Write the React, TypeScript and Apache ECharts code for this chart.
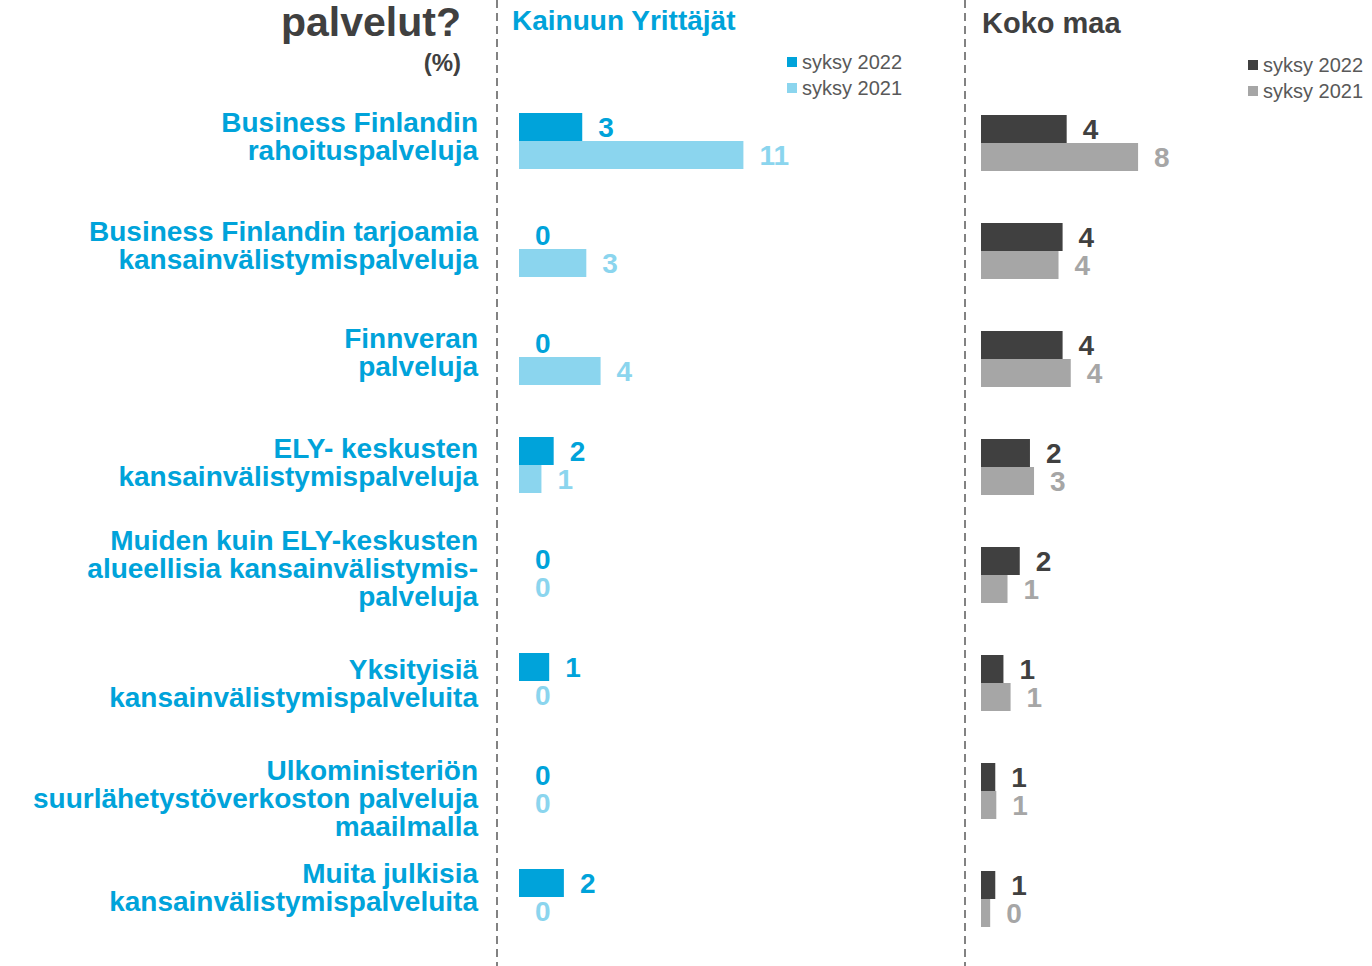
import React, { useEffect, useRef } from "react";
import * as echarts from "echarts";

const categories = [
  "Business Finlandin\nrahoituspalveluja",
  "Business Finlandin tarjoamia\nkansainvälistymispalveluja",
  "Finnveran\npalveluja",
  "ELY- keskusten\nkansainvälistymispalveluja",
  "Muiden kuin ELY-keskusten\nalueellisia kansainvälistymis-\npalveluja",
  "Yksityisiä\nkansainvälistymispalveluita",
  "Ulkoministeriön\nsuurlähetystöverkoston palveluja\nmaailmalla",
  "Muita julkisia\nkansainvälistymispalveluita",
];

const kainuu2022 = [3.1, 0, 0, 1.7, 0, 1.48, 0, 2.2];
const kainuu2021 = [11.0, 3.3, 4.0, 1.1, 0, 0, 0, 0];
const kokoMaa2022 = [4.2, 4.0, 4.0, 2.4, 1.9, 1.1, 0.7, 0.7];
const kokoMaa2021 = [7.7, 3.8, 4.4, 2.6, 1.3, 1.45, 0.75, 0.45];

const seriesNames = ["syksy 2022", "syksy 2021"];
const panelTitles = ["Kainuun Yrittäjät", "Koko maa"];

// vertical nudge (px) of each category label relative to its band centre
const labelShift = [-5, -4, -5, -3, -5, 2, 9, -10];

const BLUE = "#00A3DA";
const LIGHT_BLUE = "#8BD5EE";
const DARK = "#404040";
const GREY = "#A6A6A6";
const FONT = "'Liberation Sans', Arial, sans-serif";
const CAT_FS = 28;

export default function App() {
  const ref = useRef<HTMLDivElement>(null);

  useEffect(() => {
    if (!ref.current) return;
    const chart = echarts.init(ref.current, undefined, { renderer: "svg" });

    const labelFor = (color: string) => ({
      show: true,
      position: "right",
      distance: 16,
      color,
      fontSize: 28,
      fontWeight: "bold",
      fontFamily: FONT,
      formatter: (p: any) => String(Math.round(p.value)),
    });

    const makeBar = (
      name: string,
      data: number[],
      color: string,
      idx: number
    ) => ({
      type: "bar",
      name,
      data,
      xAxisIndex: idx,
      yAxisIndex: idx,
      barWidth: 28,
      barGap: "0%",
      itemStyle: { color },
      label: labelFor(color),
      emphasis: { disabled: true },
    });

    const legendText = (name: string) =>
      name.replace(/^.*\s(syksy \d+)$/, "$1");

    // rich styles: text lines + spacer lines used to nudge labels vertically
    const rich: any = {
      t: {
        color: BLUE,
        fontSize: CAT_FS,
        fontWeight: "bold",
        fontFamily: FONT,
        lineHeight: CAT_FS,
        align: "right",
      },
    };
    labelShift.forEach((s) => {
      const h = Math.abs(2 * s);
      if (h > 0) rich["sp" + h] = { fontSize: 1, lineHeight: h, align: "right" };
    });

    const catFormatter = (value: string, index: number) => {
      const lines = value.split("\n").map((l) => `{t|${l}}`);
      const s = labelShift[index] || 0;
      const h = Math.abs(2 * s);
      if (s < 0) lines.push(`{sp${h}| }`);
      else if (s > 0) lines.unshift(`{sp${h}| }`);
      return lines.join("\n");
    };

    const legendBase = {
      orient: "vertical",
      padding: 0,
      itemWidth: 10,
      itemHeight: 10,
      itemGap: 6,
      icon: "rect",
      selectedMode: false,
      formatter: legendText,
      textStyle: { color: "#595959", fontSize: 20, fontFamily: FONT },
    };

    const option: any = {
      animation: false,
      textStyle: { fontFamily: FONT },
      grid: [
        { left: 519, top: 87, width: 306, height: 864 },
        { left: 981, top: 89, width: 306, height: 864 },
      ],
      xAxis: [
        { type: "value", gridIndex: 0, min: 0, max: 15, show: false },
        { type: "value", gridIndex: 1, min: 0, max: 15, show: false },
      ],
      yAxis: [
        {
          type: "category",
          gridIndex: 0,
          inverse: true,
          data: categories,
          axisLine: { show: false },
          axisTick: { show: false },
          splitLine: { show: false },
          axisLabel: {
            margin: 41,
            align: "right",
            interval: 0,
            formatter: catFormatter,
            rich,
          },
        },
        {
          type: "category",
          gridIndex: 1,
          inverse: true,
          data: categories,
          axisLine: { show: false },
          axisTick: { show: false },
          splitLine: { show: false },
          axisLabel: { show: false },
        },
      ],
      legend: [
        {
          ...legendBase,
          data: [
            panelTitles[0] + " " + seriesNames[0],
            panelTitles[0] + " " + seriesNames[1],
          ],
          left: 787,
          top: 52,
        },
        {
          ...legendBase,
          data: [
            panelTitles[1] + " " + seriesNames[0],
            panelTitles[1] + " " + seriesNames[1],
          ],
          left: 1248,
          top: 55,
        },
      ],
      series: [
        makeBar(panelTitles[0] + " " + seriesNames[0], kainuu2022, BLUE, 0),
        makeBar(panelTitles[0] + " " + seriesNames[1], kainuu2021, LIGHT_BLUE, 0),
        makeBar(panelTitles[1] + " " + seriesNames[0], kokoMaa2022, DARK, 1),
        makeBar(panelTitles[1] + " " + seriesNames[1], kokoMaa2021, GREY, 1),
      ],
      graphic: [
        {
          type: "line",
          shape: { x1: 497, y1: 0, x2: 497, y2: 966 },
          style: { stroke: "#595959", lineWidth: 1.5, lineDash: [8, 5] },
          silent: true,
        },
        {
          type: "line",
          shape: { x1: 965, y1: 0, x2: 965, y2: 966 },
          style: { stroke: "#595959", lineWidth: 1.5, lineDash: [8, 5] },
          silent: true,
        },
        {
          type: "text",
          right: 1372 - 461,
          top: 1,
          style: {
            text: "palvelut?",
            fill: DARK,
            font: "bold 41px " + FONT,
          },
        },
        {
          type: "text",
          right: 1372 - 461,
          top: 50,
          style: {
            text: "(%)",
            fill: DARK,
            font: "bold 24px " + FONT,
          },
        },
        {
          type: "text",
          left: 512,
          top: 6,
          style: {
            text: panelTitles[0],
            fill: BLUE,
            font: "bold 28px " + FONT,
          },
        },
        {
          type: "text",
          left: 982,
          top: 8,
          style: {
            text: panelTitles[1],
            fill: DARK,
            font: "bold 29px " + FONT,
          },
        },
      ],
    };

    chart.setOption(option);
    return () => chart.dispose();
  }, []);

  return (
    <div
      ref={ref}
      style={{ position: "absolute", left: 0, top: 0, width: 1372, height: 966, background: "#fff" }}
    />
  );
}
